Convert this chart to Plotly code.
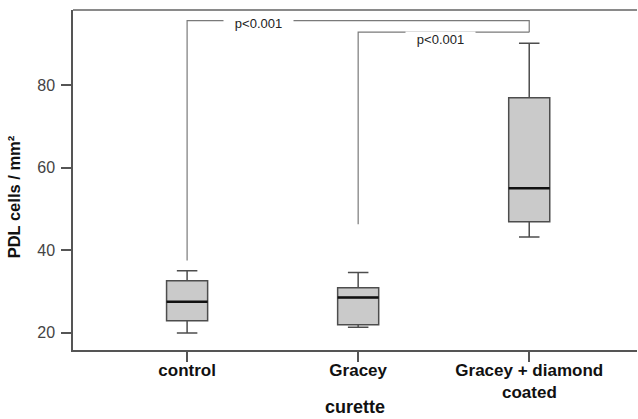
import plotly.graph_objects as go

categories = ["control", "Gracey", "Gracey + diamond"]
category_line2 = ["", "", "coated"]
cat_pos = [1, 2, 3]
lower_whisker = [19.9, 21.3, 43.2]
q1 = [22.9, 21.9, 46.9]
median = [27.5, 28.5, 55.0]
q3 = [32.6, 30.9, 76.9]
upper_whisker = [35.0, 34.6, 90.1]

# significance brackets
bracket1 = dict(x=[1, 1, 3, 3], y=[37.5, 95.6, 95.6, 92.8])
bracket2 = dict(x=[2, 2, 3], y=[46.3, 92.8, 92.8])
labels = ["p&lt;0.001", "p&lt;0.001"]
label_x = [1.415, 2.48]
label_y = [95.6, 92.8]

y_ticks = [20, 40, 60, 80]

FONT = "Liberation Sans, Arial"
BOX_W = 0.24
fig = go.Figure()

for i in range(3):
    fig.add_trace(go.Box(
        x=[cat_pos[i]], q1=[q1[i]], median=[median[i]], q3=[q3[i]],
        lowerfence=[lower_whisker[i]], upperfence=[upper_whisker[i]],
        width=BOX_W, whiskerwidth=0.5, boxpoints=False,
        fillcolor="#cacaca", line=dict(color="#4d4d4d", width=1.5),
        showlegend=False, hoverinfo="skip"))
    fig.add_trace(go.Scatter(
        x=[cat_pos[i] - BOX_W / 2, cat_pos[i] + BOX_W / 2], y=[median[i], median[i]],
        mode="lines", line=dict(color="#111111", width=2.5),
        showlegend=False, hoverinfo="skip"))

for b in (bracket1, bracket2):
    fig.add_trace(go.Scatter(x=b["x"], y=b["y"], mode="lines",
                             line=dict(color="#7a7a7a", width=1.2),
                             showlegend=False, hoverinfo="skip"))

nb = "\u00a0"
for t, lx, ly, ys in zip(labels, label_x, label_y, [-3, -7]):
    fig.add_annotation(x=lx, y=ly, text=nb * 3 + t + nb * 3, showarrow=False,
                       bgcolor="white", borderpad=0, yshift=ys,
                       font=dict(family=FONT, size=13, color="#222222"))

# second line of category labels
for xp, t in zip(cat_pos, category_line2):
    if t:
        fig.add_annotation(x=xp, xref="x", y=0, yref="paper", yanchor="middle", yshift=-42,
                           text="<b>" + t + "</b>", showarrow=False,
                           font=dict(family=FONT, size=17, color="#111111"))

fig.add_annotation(x=-0.104, xref="paper", xanchor="center", y=0.45, yref="paper",
                   text="<b>PDL cells / mm²</b>", textangle=-90, showarrow=False,
                   font=dict(family=FONT, size=16.5, color="#111111"))

fig.add_annotation(x=0.5, xref="paper", xanchor="center", y=0, yref="paper",
                   yanchor="middle", yshift=-57,
                   text="<b>curette</b>", showarrow=False,
                   font=dict(family=FONT, size=18, color="#111111"))

fig.update_layout(
    width=638, height=419,
    margin=dict(l=73, r=1, t=10, b=69),
    paper_bgcolor="white", plot_bgcolor="white",
    font=dict(family=FONT, color="#222222"),
    xaxis=dict(
        range=[0.333, 3.63], tickvals=cat_pos, automargin=False,
        ticktext=["<b>" + c + "</b>" for c in categories],
        tickfont=dict(size=17, color="#111111"), ticklabelstandoff=-6,
        ticks="outside", ticklen=10, tickwidth=1.5, tickcolor="#555555",
        showline=True, linecolor="#555555", linewidth=2, mirror=False,
        showgrid=False, zeroline=False,
    ),
    yaxis=dict(
        range=[15.81, 98.17], tickvals=y_ticks, automargin=False,
        tickfont=dict(size=16, color="#444444"), ticklabelstandoff=3,
        ticks="outside", ticklen=10, tickwidth=1.5, tickcolor="#555555",
        showline=True, linecolor="#555555", linewidth=1.5,
        showgrid=False, zeroline=False,
    ),
)

fig.add_shape(type="line", xref="paper", yref="paper", x0=0, x1=1, y0=1, y1=1,
              line=dict(color="#8a8a8a", width=2))

fig.write_html("out.html", config={"displayModeBar": False},
               post_script="document.body.style.margin='0';document.body.style.overflow='hidden';")
